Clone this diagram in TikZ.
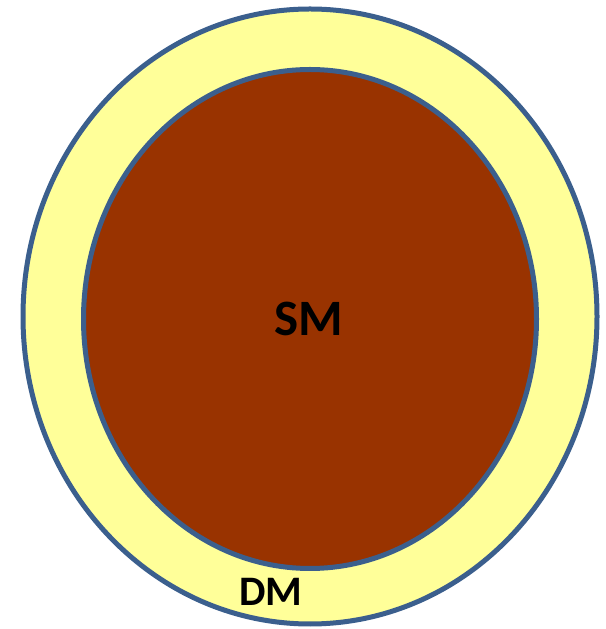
\documentclass[tikz,border=0pt]{standalone}
\usepackage{fontspec}
\setmainfont{Carlito}
\definecolor{rim}{HTML}{3B5F8D}
\definecolor{dmfill}{HTML}{FFFF99}
\definecolor{smfill}{HTML}{993300}
\tikzset{
  ring/.style={draw=rim, line width=5pt},
  lbl/.style={anchor=base, inner sep=0pt, font=\bfseries, text=black}
}
\begin{document}
\begin{tikzpicture}[x=1pt,y=1pt]
\useasboundingbox (0,0) rectangle (605,629);
\draw[ring, fill=dmfill] (310,312.5) ellipse [x radius=287, y radius=307.5];
\draw[ring, fill=smfill] (310,310) ellipse [x radius=226.5, y radius=249.5];
\node[lbl, font=\fontsize{51}{55}\selectfont\bfseries] (sm) at (308.5,293) {SM};
\node[lbl, font=\fontsize{42}{46}\selectfont\bfseries] (dm) at (271,23.5) {DM};
\end{tikzpicture}
\end{document}
